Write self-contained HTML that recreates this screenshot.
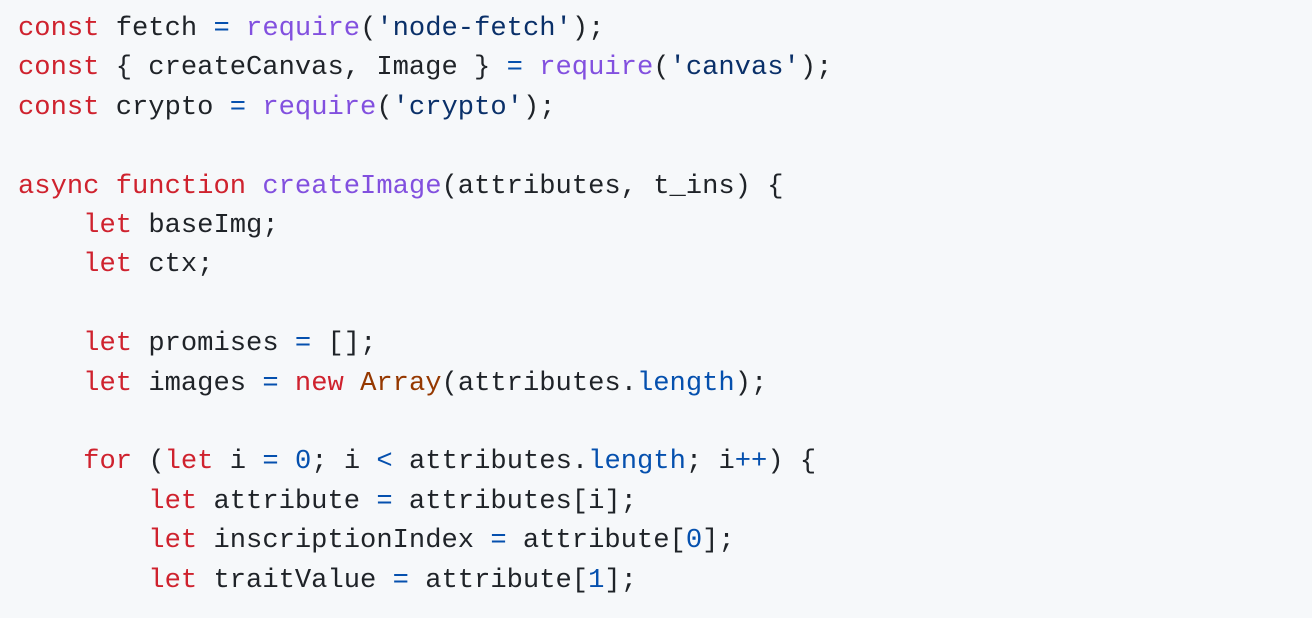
<!DOCTYPE html>
<html><head><meta charset="utf-8"><style>
html,body{margin:0;padding:0;background:#f6f8fa;width:1312px;height:618px;overflow:hidden}
pre{margin:0;padding:9px 0 0 18px;font-family:"Liberation Mono",monospace;font-size:27.15px;line-height:39.4px;color:#1f2328;white-space:pre}
.k{color:#cf222e}.f{color:#8250df}.s{color:#0a3069}.o{color:#0550ae}.c{color:#953800}
</style></head><body><pre><span class="k">const</span> fetch <span class="o">=</span> <span class="f">require</span>(<span class="s">'node-fetch'</span>);
<span class="k">const</span> { createCanvas, Image } <span class="o">=</span> <span class="f">require</span>(<span class="s">'canvas'</span>);
<span class="k">const</span> crypto <span class="o">=</span> <span class="f">require</span>(<span class="s">'crypto'</span>);

<span class="k">async</span> <span class="k">function</span> <span class="f">createImage</span>(attributes, t_ins) {
    <span class="k">let</span> baseImg;
    <span class="k">let</span> ctx;

    <span class="k">let</span> promises <span class="o">=</span> [];
    <span class="k">let</span> images <span class="o">=</span> <span class="k">new</span> <span class="c">Array</span>(attributes.<span class="o">length</span>);

    <span class="k">for</span> (<span class="k">let</span> i <span class="o">=</span> <span class="o">0</span>; i <span class="o">&lt;</span> attributes.<span class="o">length</span>; i<span class="o">++</span>) {
        <span class="k">let</span> attribute <span class="o">=</span> attributes[i];
        <span class="k">let</span> inscriptionIndex <span class="o">=</span> attribute[<span class="o">0</span>];
        <span class="k">let</span> traitValue <span class="o">=</span> attribute[<span class="o">1</span>];
</pre></body></html>
